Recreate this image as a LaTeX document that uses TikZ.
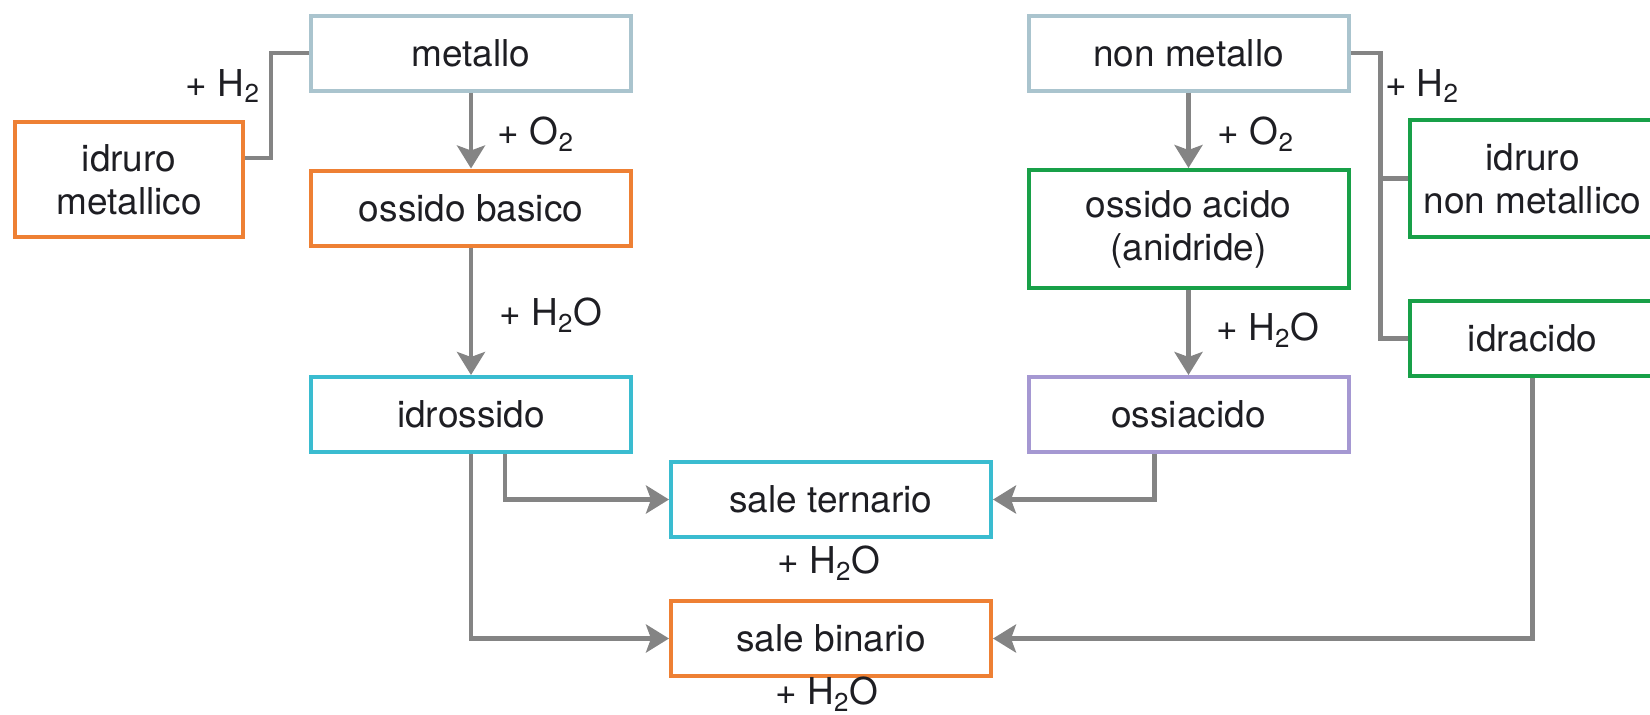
\documentclass[tikz,border=0pt]{standalone}
\usepackage{fontspec}
\setmainfont{TeX Gyre Heros}
\usetikzlibrary{arrows.meta}
\definecolor{elemblue}{RGB}{170,196,206}
\definecolor{basorange}{RGB}{238,128,52}
\definecolor{hydcyan}{RGB}{58,188,208}
\definecolor{acidgreen}{RGB}{24,160,72}
\definecolor{oxyviolet}{RGB}{165,152,210}
\definecolor{linkgray}{RGB}{132,132,132}
\definecolor{inkblack}{RGB}{30,30,35}

\begin{document}
\begin{tikzpicture}[
    x=0.5pt, y=-0.5pt,
    font=\fontsize{18.5}{21.5}\selectfont,
    text=inkblack,
    box/.style={rectangle, draw, line width=2pt, minimum width=160pt, minimum height=37.5pt, align=center, inner sep=0pt, fill=white},
    element/.style={box, draw=elemblue},
    basic/.style={box, draw=basorange},
    hydroxide/.style={box, draw=hydcyan},
    acidic/.style={box, draw=acidgreen},
    oxyacid/.style={box, draw=oxyviolet},
    link/.style={draw=linkgray, line width=2.2pt},
    arrow/.style={link, -{Stealth[length=11.5pt, width=14pt, inset=2.5pt]}},
    reagent/.style={inner sep=0pt}
]
\useasboundingbox (0,0) rectangle (1650,714);

% Elementi
\node[element] (metallo) at (471,53) {metallo};
\node[element] (nonmetallo) at (1188.5,53) {non metallo};

% Ossidi
\node[basic] (ossbas) at (471,208) {ossido basico};
\node[acidic, minimum height=59pt] (ossacido) at (1188.5,229) {ossido acido\\(anidride)};

% Idruri e idracido
\node[basic, minimum width=114pt, minimum height=57.5pt] (idrmet) at (129,179.5) {idruro\\metallico};
\node[acidic, minimum width=122.5pt, minimum height=58.5pt] (idrnonmet) at (1532.5,178.5) {idruro\\non metallico};
\node[acidic, minimum width=122.5pt] (idracido) at (1532.5,338.5) {idracido};

% Idrossido e ossiacido
\node[hydroxide] (idrossido) at (471,414.5) {idrossido};
\node[oxyacid] (ossiacido) at (1188.5,414.5) {ossiacido};

% Sali
\node[hydroxide] (saleter) at (831,499.5) {sale ternario};
\node[basic] (salebin) at (831,638.5) {sale binario};

% Reagenti
\node[reagent] (h2sx) at (223,86) {+ H\textsubscript{2}};
\node[reagent] (o2sx) at (536,134) {+ O\textsubscript{2}};
\node[reagent] (h2osx) at (551,315) {+ H\textsubscript{2}O};
\node[reagent] (h2dx) at (1422,86) {+ H\textsubscript{2}};
\node[reagent] (o2dx) at (1256,134) {+ O\textsubscript{2}};
\node[reagent] (h2odx) at (1268,330) {+ H\textsubscript{2}O};
\node[reagent] (h2oter) at (829,563) {+ H\textsubscript{2}O};
\node[reagent] (h2obin) at (827,694) {+ H\textsubscript{2}O};

% Ossidazione e idratazione
\draw[arrow] (metallo) -- (ossbas);
\draw[arrow] (ossbas) -- (idrossido);
\draw[arrow] (nonmetallo) -- (ossacido);
\draw[arrow] (ossacido) -- (ossiacido);

% Idruri
\draw[link] (metallo.west) -- ++(-38,0) |- ([yshift=10.75pt]idrmet.east);
\draw[link] (nonmetallo.east) -- ++(30,0) coordinate (hbend) |- (idracido.west);
\draw[link] (hbend |- idrnonmet.west) -- (idrnonmet.west);

% Sali
\draw[arrow] ([xshift=17pt]idrossido.south) |- (saleter.west);
\draw[arrow] (idrossido.south) |- (salebin.west);
\draw[arrow] ([xshift=-17pt]ossiacido.south) |- (saleter.east);
\draw[arrow] (idracido.south) |- (salebin.east);

\end{tikzpicture}
\end{document}
